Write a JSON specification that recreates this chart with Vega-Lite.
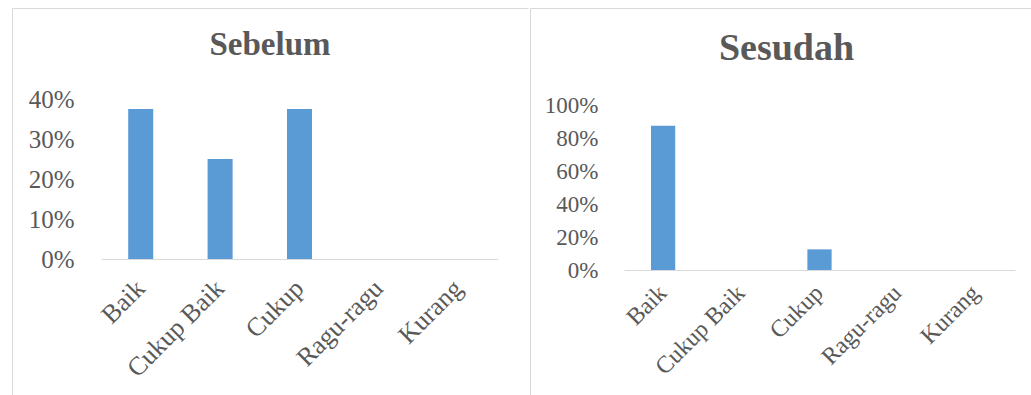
{
  "$schema": "https://vega.github.io/schema/vega-lite/v6.json",
  "padding": {"left": 11, "top": 7, "right": 0, "bottom": 0},
  "spacing": 0,
  "background": "white",
  "config": {
    "font": "Liberation Serif",
    "axis": {"labelFont": "Liberation Serif", "labelColor": "#595959", "title": null, "grid": false, "ticks": false, "tickSize": 0, "domainColor": "#d9d9d9", "labelOverlap": false, "labelBound": false},
    "title": {"font": "Liberation Serif", "fontWeight": "bold", "color": "#595959", "baseline": "alphabetic", "anchor": "middle"},
    "bar": {"color": "#5b9bd5"}
  },
  "datasets": {
    "sebelum": [
      {"kategori": "Baik", "persen": 0.375},
      {"kategori": "Cukup Baik", "persen": 0.25},
      {"kategori": "Cukup", "persen": 0.375},
      {"kategori": "Ragu-ragu", "persen": 0},
      {"kategori": "Kurang", "persen": 0}
    ],
    "sesudah": [
      {"kategori": "Baik", "persen": 0.875},
      {"kategori": "Cukup Baik", "persen": 0},
      {"kategori": "Cukup", "persen": 0.125},
      {"kategori": "Ragu-ragu", "persen": 0},
      {"kategori": "Kurang", "persen": 0}
    ]
  },
  "hconcat": [
    {
      "title": {"text": "Sebelum", "fontSize": 33, "offset": -54},
      "width": 516,
      "height": 388,
      "view": {"stroke": "#d9d9d9", "strokeWidth": 1, "strokeDash": [516, 904, 388], "fill": null},
      "data": {"name": "sebelum"},
      "mark": {"type": "bar"},
      "encoding": {
        "x": {"field": "kategori", "type": "nominal", "sort": null,
          "scale": {"range": [89, 486], "paddingInner": 0.685, "paddingOuter": 0.3425},
          "axis": {"labelAngle": -45, "labelAlign": "right", "labelBaseline": "middle", "labelFontSize": 26, "labelPadding": 25, "offset": -137, "domainWidth": 1}},
        "y": {"field": "persen", "type": "quantitative",
          "scale": {"domain": [0, 0.4], "range": [251, 91], "nice": false},
          "axis": {"values": [0, 0.1, 0.2, 0.3, 0.4], "format": ".0%", "labelFontSize": 25, "labelPadding": 27, "domain": false, "offset": -89}}
      }
    },
    {
      "title": {"text": "Sesudah", "fontSize": 38, "offset": -60, "dx": 5},
      "width": 503,
      "height": 388,
      "view": {"stroke": "#d9d9d9", "strokeWidth": 1, "strokeDash": [503, 891, 388], "fill": null},
      "data": {"name": "sesudah"},
      "mark": {"type": "bar"},
      "encoding": {
        "x": {"field": "kategori", "type": "nominal", "sort": null,
          "scale": {"range": [94, 485], "paddingInner": 0.69, "paddingOuter": 0.345},
          "axis": {"labelAngle": -45, "labelAlign": "right", "labelBaseline": "middle", "labelFontSize": 24, "labelPadding": 19, "offset": -126, "domainWidth": 1}},
        "y": {"field": "persen", "type": "quantitative",
          "scale": {"domain": [0, 1], "range": [262, 97], "nice": false},
          "axis": {"values": [0, 0.2, 0.4, 0.6, 0.8, 1], "format": ".0%", "labelFontSize": 23, "labelPadding": 26, "domain": false, "offset": -94}}
      }
    }
  ]
}
